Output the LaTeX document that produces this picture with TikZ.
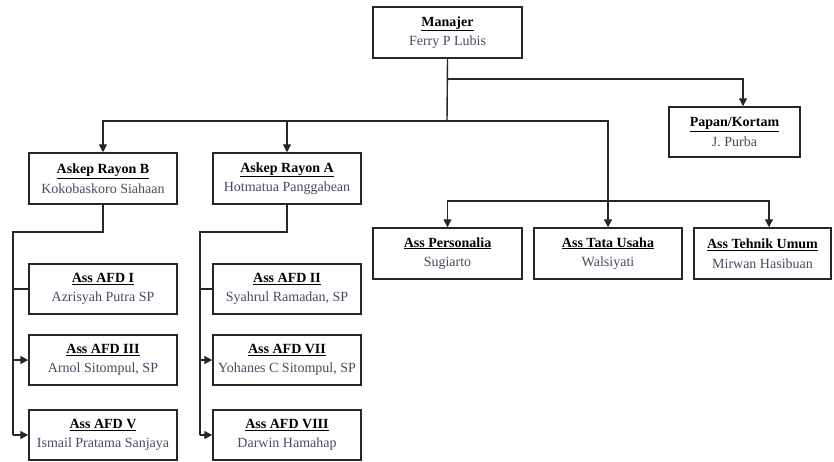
\documentclass[tikz,border=0pt]{standalone}
\usepackage{fontspec}
\setmainfont{Liberation Serif}
\usetikzlibrary{arrows.meta,calc}
\definecolor{namecol}{rgb}{0.28,0.30,0.38}
\definecolor{linecol}{rgb}{0.15,0.15,0.15}
\newcommand{\orgbox}[2]{{\bfseries\underline{#1}}\\{\color{namecol}#2}}
\tikzset{
  orgnode/.style={draw=linecol, line width=1.5pt, fill=white, rectangle,
    minimum width=148pt, minimum height=50pt, inner sep=0pt, align=center,
    font=\fontsize{14}{19.5}\selectfont},
  link/.style={draw=linecol, line width=1.4pt},
  arr/.style={link, -{Triangle[length=8pt,width=8pt]}}
}
\begin{document}
\begin{tikzpicture}[x=1pt,y=-1pt]
\useasboundingbox (0,0) rectangle (834,461);

% top level
\node[orgnode, minimum width=149pt, minimum height=51pt] (man) at (447.5,32.5) {\orgbox{Manajer}{Ferry P Lubis}};
\node[orgnode, minimum width=131pt] (papan) at (734.5,132) {\orgbox{Papan/Kortam}{J. Purba}};

% rayon heads
\node[orgnode, minimum height=51pt] (askB) at (103,178.5) {\orgbox{Askep Rayon B}{Kokobaskoro Siahaan}};
\node[orgnode, minimum height=51pt] (askA) at (287,178.5) {\orgbox{Askep Rayon A}{Hotmatua Panggabean}};

% staff assistants
\node[orgnode, minimum width=149pt, minimum height=51pt] (pers) at (447.5,253.5) {\orgbox{Ass Personalia}{Sugiarto}};
\node[orgnode, minimum height=51pt] (tata) at (608,253.5) {\orgbox{Ass Tata Usaha}{Walsiyati}};
\node[orgnode, minimum width=137pt, minimum height=51pt] (tek) at (762.5,253.5) {\orgbox{Ass Tehnik Umum}{Mirwan Hasibuan}};

% divisions of rayon B
\node[orgnode] (afd1) at (103,289) {\orgbox{Ass AFD I}{Azrisyah Putra SP}};
\node[orgnode] (afd3) at (103,360) {\orgbox{Ass AFD III}{Arnol Sitompul, SP}};
\node[orgnode] (afd5) at (103,435) {\orgbox{Ass AFD V}{Ismail Pratama Sanjaya}};

% divisions of rayon A
\node[orgnode] (afd2) at (287,289) {\orgbox{Ass AFD II}{Syahrul Ramadan, SP}};
\node[orgnode] (afd7) at (287,360) {\orgbox{Ass AFD VII}{Yohanes C Sitompul, SP}};
\node[orgnode] (afd8) at (287,435) {\orgbox{Ass AFD VIII}{Darwin Hamahap}};

% junction points
\coordinate (j1) at (447,79);
\coordinate (j2) at (447,121);
\coordinate (pk) at (743,79);
\coordinate (jr) at (608,121);
\coordinate (j3) at (608,201);
\coordinate (tk) at (769,201);
\coordinate (bB) at (103,232);
\coordinate (lB) at (13,232);
\coordinate (bA) at (287,232);
\coordinate (lA) at (200,232);

% manager down to the branches
\draw[link] (man.south) -- (j2);
\draw[arr] (j1) -- (pk) -- (pk |- papan.north);
\draw[arr] (j2) -| (askB.north);
\draw[arr] (j2) -| (askA.north);
\draw[link] (j2) -- (jr) -- (j3);
\draw[arr] (j3) -- (tata.north);
\draw[arr] (j3) -| (pers.north);
\draw[arr] (j3) -- (tk) -- (tk |- tek.north);

% rayon B divisions
\draw[link] (askB.south) -- (bB) -- (lB) -- (lB |- afd5.west);
\draw[link] (lB |- afd1.west) -- (afd1.west);
\draw[arr] (lB |- afd3.west) -- (afd3.west);
\draw[arr] (lB |- afd5.west) -- (afd5.west);

% rayon A divisions
\draw[link] (askA.south) -- (bA) -- (lA) -- (lA |- afd8.west);
\draw[link] (lA |- afd2.west) -- (afd2.west);
\draw[arr] (lA |- afd7.west) -- (afd7.west);
\draw[arr] (lA |- afd8.west) -- (afd8.west);
\end{tikzpicture}
\end{document}
